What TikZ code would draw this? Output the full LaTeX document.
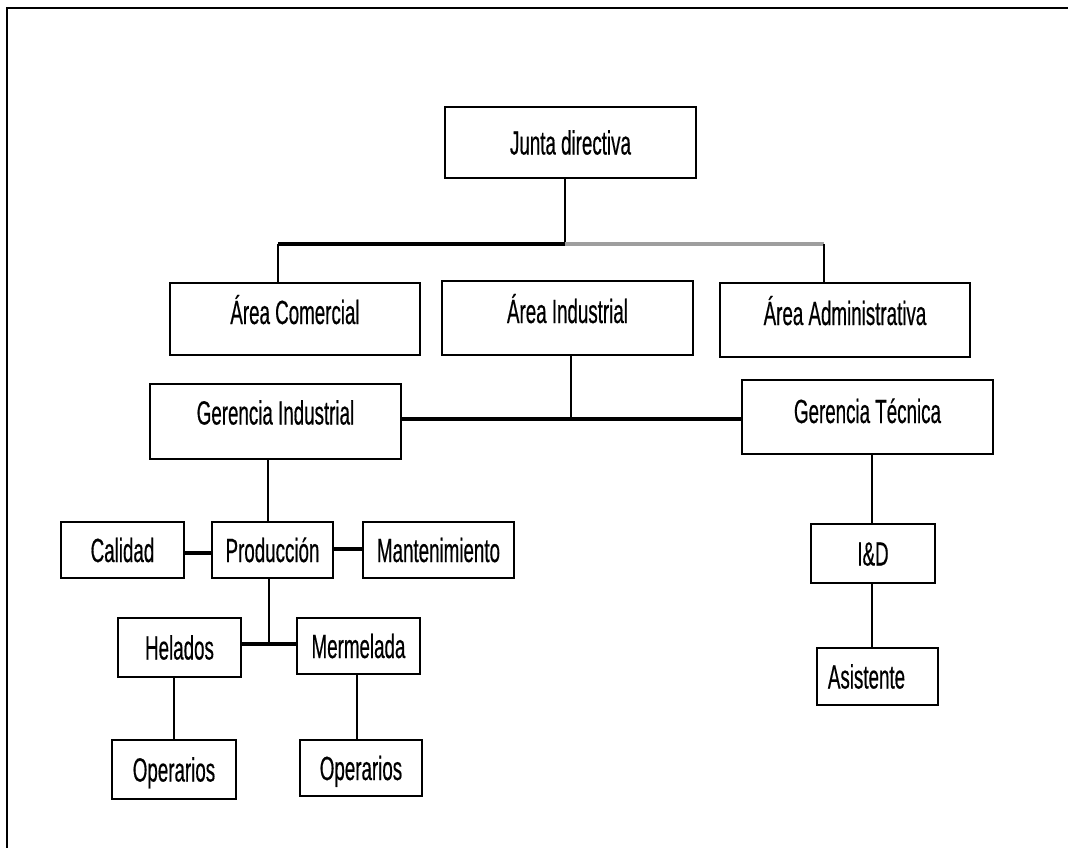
\documentclass[tikz,border=0pt]{standalone}
\usepackage{fontspec}
\newfontfamily\boxfont[FakeStretch=0.56,FakeBold=0.4]{Liberation Sans}
\begin{document}
\begin{tikzpicture}[x=1pt,y=-1pt,
  unit/.style={draw=black, line width=2pt, inner sep=0pt, fill=white,
    font=\boxfont\fontsize{33.5}{35}\selectfont,
    text height=24pt, text depth=0pt},
  upper/.style={unit, text depth=14pt},
  link/.style={line width=1.8pt},
  bar/.style={line width=4.5pt},
  fadedbar/.style={line width=3.5pt, draw=black!38},
  frame/.style={line width=2.5pt}]
\useasboundingbox (0,0) rectangle (1068,848);
\draw[frame] (7,848) -- (7,8) -- (1068,8);

% reference lines for the connectors
\coordinate (t1) at (278,244);
\coordinate (t2) at (824,244);
\coordinate (b2) at (0,419);
\coordinate (b3) at (0,644);
\coordinate (xj) at (565,0);
\coordinate (xi) at (571,0);
\coordinate (xg) at (268,0);
\coordinate (xp) at (269,0);
\coordinate (xh) at (174,0);
\coordinate (xm) at (357,0);
\coordinate (xt) at (872,0);

% boxes
\node[unit, minimum width=251pt, minimum height=71pt] (junta) at (570.5,142.5) {Junta directiva};
\node[upper, minimum width=250pt, minimum height=72pt] (comercial) at (295,319) {Área Comercial};
\node[upper, minimum width=251pt, minimum height=74pt] (industrial) at (567.5,318) {Área Industrial};
\node[upper, minimum width=250pt, minimum height=74pt] (administrativa) at (845,320) {Área Administrativa};
\node[upper, text depth=18pt, minimum width=251pt, minimum height=75pt] (gerind) at (275.5,421.5) {Gerencia Industrial};
\node[upper, text depth=12pt, minimum width=251pt, minimum height=74pt] (gertec) at (867.5,417) {Gerencia Técnica};
\node[unit, minimum width=123pt, minimum height=56pt] (calidad) at (122.5,550) {Calidad};
\node[unit, minimum width=121pt, minimum height=56pt] (produccion) at (272.5,550) {Producción};
\node[unit, minimum width=151pt, minimum height=56pt] (mantenimiento) at (438.5,550) {Mantenimiento};
\node[unit, minimum width=123pt, minimum height=59pt] (helados) at (179.5,647.5) {Helados};
\node[unit, minimum width=123pt, minimum height=56pt] (mermelada) at (358.5,646) {Mermelada};
\node[unit, minimum width=124pt, minimum height=59pt] (operA) at (174,769.5) {Operarios};
\node[unit, minimum width=122pt, minimum height=56pt] (operB) at (361,768) {Operarios};
\node[unit, minimum width=124pt, minimum height=59pt] (iyd) at (873,553.5) {I\&D};
\node[unit, minimum width=121pt, minimum height=57pt] (asistente) at (877.5,676.5) {\hspace*{-22pt}Asistente};

% top level
\draw[link] (junta.south -| xj) -- (t1 -| xj);
\draw[bar] (t1) -- (t1 -| xj);
\draw[fadedbar] (t1 -| xj) -- (t2);
\draw[link, line width=2.2pt] (t1) -- (comercial.north -| t1);
\draw[link, line width=2.2pt] (t2) -- (administrativa.north -| t2);

% industrial area
\draw[link] (industrial.south -| xi) -- (b2 -| xi);
\draw[bar] (gerind.east |- b2) -- (gertec.west |- b2);

% industrial management
\draw[link] (gerind.south -| xg) -- (produccion.north -| xg);
\draw[bar] (calidad.east |- 0,553) -- (produccion.west |- 0,553);
\draw[bar] (produccion.east |- 0,549) -- (mantenimiento.west |- 0,549);
\draw[link] (produccion.south -| xp) -- (b3 -| xp);
\draw[bar] (helados.east |- b3) -- (mermelada.west |- b3);
\draw[link] (helados.south -| xh) -- (operA.north -| xh);
\draw[link] (mermelada.south -| xm) -- (operB.north -| xm);

% technical management
\draw[link] (gertec.south -| xt) -- (iyd.north -| xt);
\draw[link] (iyd.south -| xt) -- (asistente.north -| xt);
\end{tikzpicture}
\end{document}
